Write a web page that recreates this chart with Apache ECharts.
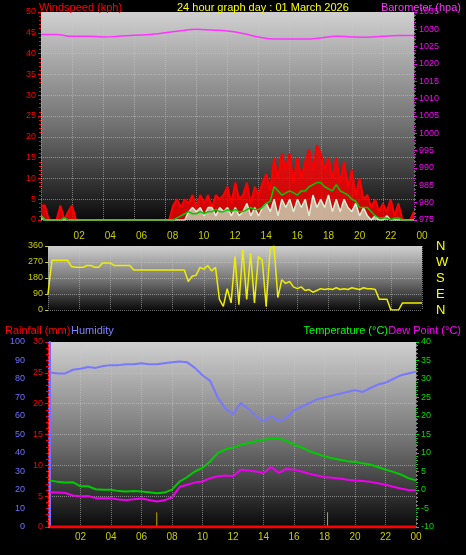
<!DOCTYPE html>
<html><head><meta charset="utf-8">
<script src="https://cdn.jsdelivr.net/npm/echarts@6/dist/echarts.min.js"></script>
<style>html,body{margin:0;background:#000}#c{width:466px;height:555px}</style>
</head><body><div id="c"></div>
<script>
// 15-minute samples, 00:00 .. 24:00
const gust = [3.5,3.5,0,0, 0,3.5,0,2, 3.5,0,0,0,
  0,0,0,0, 0,0,0,0, 0,0,0,0, 0,0,0,0, 0,0,0,0,
  0,0,3.5,5, 3,5,4,6, 3,6,4,6, 3,6,5,6, 8,4,9,5, 6,9,4,8, 6,9,11,7,
  15,10,16,12, 16,9,15,10, 14,17,12,18, 16,12,15,10, 15,9,14,8, 12,6,10,5,
  6,3,5,2, 4,2,5,1, 4,0,0,0, 2];
const speed = [1,0,0,0, 0,0,0,0, 0,0,0,0, 0,0,0,0, 0,0,0,0, 0,0,0,0, 0,0,0,0, 0,0,0,0, 0,0,0,0,
  0,0,2,3, 2,3,1,3, 3,1,3,2, 3,1,3,1, 2,4,1,3, 1,3,4,2, 5,1,5,3, 5,2,5,3, 5,1,6,3,
  5,3,6,2, 5,2,5,3, 2,4,1,3, 1,0,1,0, 0,1,0,0, 0,0,0,0, 0];
const avgWind = [1,0,0,0, 0,0,0.5,0, 0,0,0,0, 0,0,0,0, 0,0,0,0, 0,0,0,0, 0,0,0,0, 0,0,0,0,
  0,0,0,0.5, 1,1.5,2,1.5, 1.5,2,1.5,2, 2,2.5,2,2, 2.5,2,2.5,2, 2,2.5,3,2.5, 2.5,3,4,4.5,
  8,7,6,6.5, 7,6.5,6,7, 7,8,8.5,9, 9,8,7.5,7, 8.5,7,6.5,6, 5,4.5,3,3, 3,2,1,0.5,
  0.5,0.5,0,0.5, 0.5,0,0,0, 0];
const direction = [90,280,280,280, 280,280,245,240, 240,240,250,250, 240,240,265,265,
  265,250,250,250, 250,250,225,225, 225,225,225,225, 225,225,225,225, 225,225,225,225,
  160,190,195,240, 230,250,220,240, 60,20,120,40, 300,30,340,60, 320,40,300,280,
  20,340,360,70, 170,150,160,130, 120,130,110,115, 100,110,120,115, 120,115,125,115,
  120,115,125,120, 115,125,120,120, 115,60,60,60, 0,0,0,40, 40,40,40,40, 40];
// hourly
const baro = [1028.5,1028.5,1028,1028,1027.8,1028,1028.3,1028.5,1029,1029.6,1030,1029.8,
  1029.5,1028.8,1027.8,1027.2,1027.2,1027.2,1027.5,1028,1027.8,1027.7,1028,1028.2,1028.2];
const rain = new Array(25).fill(0);
// half-hourly
const humidity = [83.5,83,83,85,85.5,86.5,86,87,87.5,87.5,88,88,88.5,88,88,88.5,89,89.5,89,86,82,79,70,64,
  61,67,64,60,57,60,57,59,63,65,67,69,70,71,72,73,74,73,75,77,78,80,82,83,84];
const temp = [2.6,2.2,2.0,2.1,1.0,1.0,0.2,0.1,0.1,-0.3,-0.4,-0.3,-0.4,-0.6,-0.9,-0.7,0.1,2.3,3.5,5,6,7.7,10,11,
  11.5,12.2,12.7,13.2,13.6,14,13.9,13.3,12.3,11.5,10.5,9.8,9.1,8.6,8.2,7.8,7.6,7.2,6.9,6.2,5.5,4.9,4.2,3.2,2.6];
const dew = [-0.6,-0.7,-0.8,-1.5,-1.7,-1.6,-2.2,-2.2,-2.2,-2.6,-2.7,-2.5,-2.3,-2.7,-3.1,-2.8,-2,0.8,1.4,2,2.3,3.2,3.7,3.9,
  3.7,5.5,5.3,5,4.6,6.2,4.6,5.7,5.5,5,4.4,3.9,3.5,3.3,3.1,2.8,2.6,2.4,2.2,1.8,1.4,0.9,0.4,0,-0.1];
const markHours = [7.0, 18.2];
const compass = ['N','W','S','E','N'];

const pts = (arr, step) => arr.map((v, i) => [i * step, v]);
const F = 'Liberation Sans';
const bg = { type: 'linear', x: 0, y: 0, x2: 0, y2: 1,
  colorStops: [{ offset: 0, color: '#d0d0d0' }, { offset: 0.55, color: '#707070' }, { offset: 1, color: '#0a0a0a' }] };
const dotted = { show: true, lineStyle: { color: 'rgba(200,200,200,0.55)', type: 'dotted', width: 1 } };
const hourLbl = v => v === 0 ? '' : String(v % 24).padStart(2, '0');
const xBase = (gi, pos, showLbl) => ({
  type: 'value', gridIndex: gi, min: 0, max: 24, interval: 2, position: pos,
  axisLine: { show: false }, axisTick: { show: false }, splitLine: dotted,
  axisLabel: { show: showLbl, color: '#cccc00', fontFamily: F, fontSize: 10, formatter: hourLbl, margin: 5 }
});
const yBase = (gi, min, max, iv, color, pos, extra) => Object.assign({
  type: 'value', gridIndex: gi, min, max, interval: iv, position: pos,
  axisLine: { show: false }, axisTick: { show: true, length: 3, lineStyle: { color } },
  minorTick: { show: true, splitNumber: 5, length: 2, lineStyle: { color } },
  axisLabel: { color, fontFamily: F, fontSize: 9, margin: 5, formatter: v => String(v) }, splitLine: { show: false }
}, extra || {});
const ttl = (text, color, pos) => Object.assign({ text, textStyle: { color, fontFamily: F, fontSize: 11, fontWeight: 'normal' } }, pos);

const chart = echarts.init(document.getElementById('c'));
chart.setOption({
  backgroundColor: '#000', animation: false,
  title: [
    ttl('Windspeed (kph)', '#ff0000', { left: 34, top: -3 }),
    ttl('24 hour graph day : 01 March 2026', '#ffff00', { left: 172, top: -3 }),
    ttl('Barometer (hpa)', '#ff33ff', { right: 0, top: -3 }),
    ttl('Rainfall (mm)', '#ff0000', { left: 0, top: 320 }),
    ttl('Humidity', '#8080ff', { left: 66, top: 320 }),
    ttl('Temperature (°C)', '#00ff00', { right: 73, top: 320 }),
    ttl('Dew Point (°C)', '#ff00ff', { right: 0, top: 320 })
  ],
  grid: [
    { left: 41, width: 373, top: 12, height: 208, show: true, backgroundColor: bg, borderWidth: 0 },
    { left: 48, width: 374, top: 246, height: 64, show: true, backgroundColor: bg, borderWidth: 0 },
    { left: 50, width: 366, top: 342, height: 185, show: true, backgroundColor: bg, borderWidth: 0 }
  ],
  xAxis: [xBase(0, 'bottom', false), xBase(1, 'top', true), xBase(2, 'bottom', true)],
  yAxis: [
    yBase(0, 0, 50, 5, '#ff0000', 'left', { splitLine: dotted }),
    yBase(0, 975, 1035, 5, '#ff00ff', 'right'),
    yBase(1, 0, 360, 90, '#cccc00', 'left', { splitLine: dotted, minorTick: { show: false } }),
    yBase(1, 0, 360, 90, '#ffff00', 'right', { inverse: true, axisTick: { show: false }, minorTick: { show: false },
      axisLabel: { color: '#ffff00', fontFamily: F, fontSize: 13, margin: 14, formatter: v => compass[v / 90] } }),
    yBase(2, 0, 100, 10, '#7070ff', 'left', { offset: 20, axisLine: { show: true, lineStyle: { color: '#7070ff', width: 2 } } }),
    yBase(2, 0, 30, 5, '#ff0000', 'left', { offset: 2, splitLine: dotted, axisLine: { show: true, lineStyle: { color: '#ff0000', width: 1 } } }),
    yBase(2, -10, 40, 5, '#00dd00', 'right')
  ],
  series: [
    { type: 'line', xAxisIndex: 0, yAxisIndex: 0, data: pts(gust, 0.25), symbol: 'none',
      lineStyle: { color: '#ff0000', width: 2 }, areaStyle: { color: '#ff0000', opacity: 0.8 } },
    { type: 'line', xAxisIndex: 0, yAxisIndex: 0, data: pts(speed, 0.25), symbol: 'none',
      lineStyle: { color: '#d8f0d8', width: 1.5 }, areaStyle: { color: '#c8e8c8', opacity: 0.75 } },
    { type: 'line', xAxisIndex: 0, yAxisIndex: 0, data: pts(avgWind, 0.25), symbol: 'none',
      lineStyle: { color: '#00cc00', width: 1.5 } },
    { type: 'line', xAxisIndex: 0, yAxisIndex: 1, data: pts(baro, 1), smooth: true, symbol: 'none',
      lineStyle: { color: '#ff33ff', width: 1.5 } },
    { type: 'line', xAxisIndex: 1, yAxisIndex: 2, data: pts(direction, 0.25), symbol: 'none',
      lineStyle: { color: '#eeee00', width: 1.5 } },
    { type: 'line', xAxisIndex: 2, yAxisIndex: 4, data: pts(humidity, 0.5), symbol: 'none',
      lineStyle: { color: '#7878ff', width: 2 } },
    { type: 'line', xAxisIndex: 2, yAxisIndex: 6, data: pts(temp, 0.5), symbol: 'none',
      lineStyle: { color: '#00cc00', width: 2 } },
    { type: 'line', xAxisIndex: 2, yAxisIndex: 6, data: pts(dew, 0.5), symbol: 'none',
      lineStyle: { color: '#ee00ee', width: 2 } },
    { type: 'line', xAxisIndex: 2, yAxisIndex: 5, data: pts(rain, 1), symbol: 'none',
      lineStyle: { color: '#ff0000', width: 3 } },
    { type: 'bar', xAxisIndex: 2, yAxisIndex: 5, data: markHours.map(h => [h, 2.4]), barWidth: 1,
      itemStyle: { color: '#bbaa00' } }
  ]
});
</script></body></html>
